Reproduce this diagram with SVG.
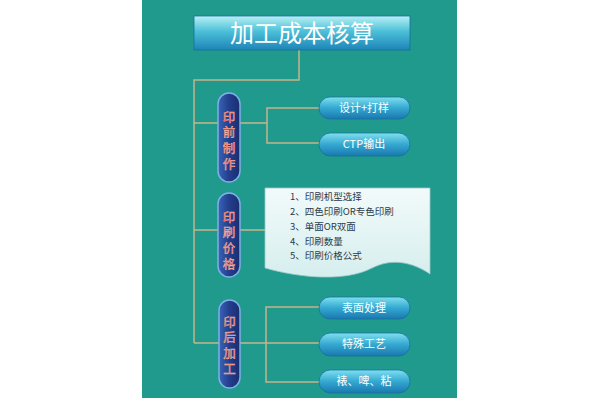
<svg xmlns="http://www.w3.org/2000/svg" width="600" height="400" viewBox="0 0 600 400">
<defs>
<linearGradient id="gTitle" x1="0" y1="0" x2="0" y2="1">
<stop offset="0" stop-color="#b8f0f4"/><stop offset="0.45" stop-color="#4cc0d8"/><stop offset="1" stop-color="#1e84b8"/>
</linearGradient>
<linearGradient id="gPill" x1="0" y1="0" x2="0" y2="1">
<stop offset="0" stop-color="#7fe0f0"/><stop offset="0.5" stop-color="#34a8d0"/><stop offset="1" stop-color="#1a78b0"/>
</linearGradient>
<linearGradient id="gVert" x1="0" y1="0" x2="1" y2="0">
<stop offset="0" stop-color="#3a64b8"/><stop offset="0.5" stop-color="#233e8c"/><stop offset="1" stop-color="#1a2e70"/>
</linearGradient>
<linearGradient id="gDoc" x1="0" y1="0" x2="0" y2="1">
<stop offset="0" stop-color="#f2fafa"/><stop offset="1" stop-color="#d6eeee"/>
</linearGradient>
<style>
.ln{stroke:#c8b48a;stroke-width:1.5;fill:none}
.pill{fill:url(#gPill);stroke:#1a6fa0;stroke-width:0.8}
.vp{fill:url(#gVert);stroke:#7fb0e8;stroke-width:1.5}
.vt{font-family:"Noto Sans CJK SC","Liberation Sans",sans-serif;font-size:12.5px;fill:#e85a4a;stroke:#f4c0b0;stroke-width:0.4;text-anchor:middle;writing-mode:vertical-rl;letter-spacing:3.2px}
.pt{font-family:"Noto Sans CJK SC","Liberation Sans",sans-serif;font-size:11px;fill:#ffffff;text-anchor:middle}
.dt{font-family:"Noto Sans CJK SC","Liberation Sans",sans-serif;font-size:9.5px;fill:#2a3a4a}
</style>
</defs>
<rect width="600" height="400" fill="#ffffff"/>
<rect x="142" y="0" width="315" height="398" fill="#1f9a8c"/>

<g id="connectors">
<polyline class="ln" points="299,50 299,80 194,80 194,343"/>
<line class="ln" x1="194" y1="123" x2="267" y2="123"/>
<polyline class="ln" points="320,108 267,108 267,143 320,143"/>
<line class="ln" x1="194" y1="230" x2="266" y2="230"/>
<line class="ln" x1="194" y1="343" x2="320" y2="343"/>
<polyline class="ln" points="320,307 266,307 266,382 320,382"/>
</g>

<g id="title">
<rect x="194" y="16" width="216" height="34" fill="url(#gTitle)" stroke="#1a6f98" stroke-width="0.8"/>
<text x="302" y="42" font-family="Noto Sans CJK SC,Liberation Sans,sans-serif" font-size="24" fill="#ffffff" text-anchor="middle">加工成本核算</text>
</g>

<g id="pre">
<rect class="vp" x="218" y="93" width="22" height="89" rx="11"/>
<text class="vt" x="229" y="142">印前制作</text>
</g>

<g id="price">
<rect class="vp" x="218" y="193" width="22" height="84" rx="11"/>
<text class="vt" x="229" y="242">印刷价格</text>
</g>

<g id="post">
<rect class="vp" x="219" y="300" width="21" height="88" rx="10.5"/>
<text class="vt" x="229.5" y="347">印后加工</text>
</g>

<g id="design">
<rect class="pill" x="319" y="97" width="91" height="22" rx="11"/>
<text class="pt" x="364" y="112">设计+打样</text>
</g>
<g id="ctp">
<rect class="pill" x="319" y="133" width="91" height="23" rx="11.5"/>
<text class="pt" x="364" y="148">CTP输出</text>
</g>

<g id="doc">
<path d="M265,188 L430,188 L430,274 C412,262 392,258 372,268 C345,282 300,278 265,268 Z" fill="url(#gDoc)" stroke="#9fc8c8" stroke-width="0.8"/>
<text class="dt" x="290" y="200">1、印刷机型选择</text>
<text class="dt" x="290" y="215">2、四色印刷OR专色印刷</text>
<text class="dt" x="290" y="230">3、单面OR双面</text>
<text class="dt" x="290" y="245">4、印刷数量</text>
<text class="dt" x="290" y="259">5、印刷价格公式</text>
</g>

<g id="surface">
<rect class="pill" x="319" y="297" width="91" height="22" rx="11"/>
<text class="pt" x="364" y="312">表面处理</text>
</g>
<g id="special">
<rect class="pill" x="319" y="333" width="91" height="23" rx="11.5"/>
<text class="pt" x="364" y="348">特殊工艺</text>
</g>
<g id="finish">
<rect class="pill" x="319" y="370" width="91" height="23" rx="11.5"/>
<text class="pt" x="364" y="385">裱、啤、粘</text>
</g>
</svg>
